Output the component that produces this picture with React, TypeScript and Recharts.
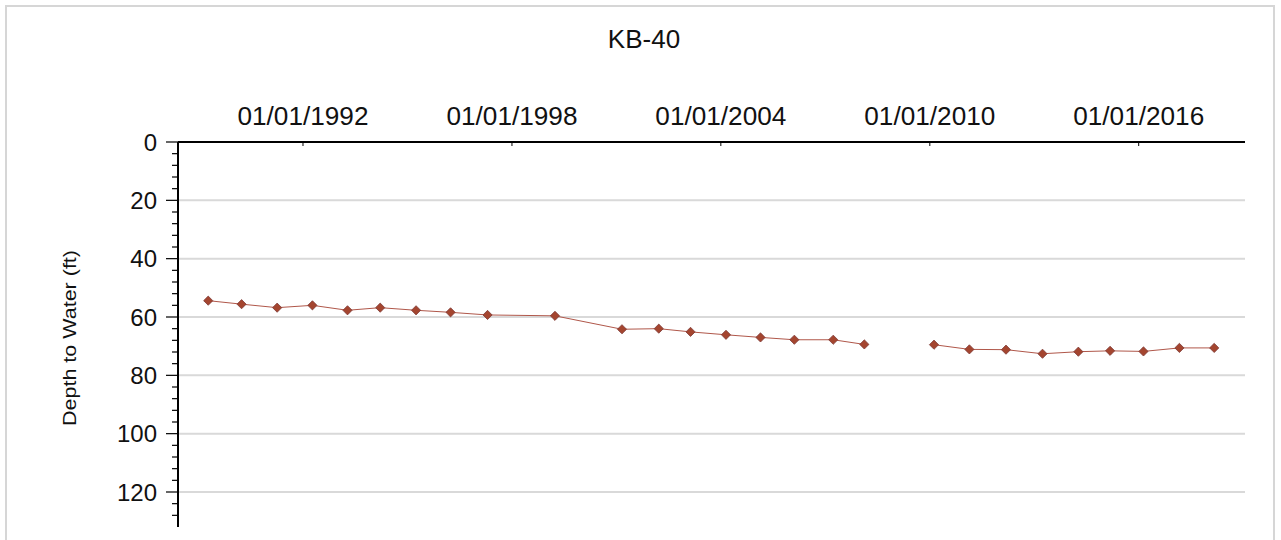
import React from 'react';
import { LineChart, Line, XAxis, YAxis, CartesianGrid } from 'recharts';

// ---- data ----
const sampleDates: string[] = [
  '1989-04-12', '1990-03-28', '1991-04-05', '1992-04-09', '1993-04-12',
  '1994-03-21', '1995-04-01', '1996-03-28', '1997-04-20', '1999-03-28',
  '2001-02-28', '2002-03-21', '2003-02-17', '2004-02-24', '2005-02-20',
  '2006-02-10', '2007-03-25', '2008-02-14', '2009-03-01', '2010-02-14',
  '2011-02-20', '2012-03-10', '2013-03-28', '2014-04-08', '2015-03-07',
  '2016-02-20', '2017-03-03', '2018-03-03',
];
const depthFt: (number | null)[] = [
  54.4, 55.6, 56.8, 56.0, 57.7,
  56.8, 57.7, 58.4, 59.3, 59.6,
  64.2, 64.0, 65.1, 66.1, 67.0,
  67.8, 67.8, 69.4, null, 69.5,
  71.1, 71.2, 72.6, 71.9, 71.6,
  71.8, 70.6, 70.6,
];
const dateTickValues: string[] = ['1992-01-01', '1998-01-01', '2004-01-01', '2010-01-01', '2016-01-01'];
const dateTickLabels: string[] = ['01/01/1992', '01/01/1998', '01/01/2004', '01/01/2010', '01/01/2016'];
const xDomainDates: string[] = ['1988-05-30', '2019-01-20'];
const depthTicks: number[] = [0, 4, 8, 12, 16, 20, 24, 28, 32, 36, 40, 44, 48, 52, 56, 60, 64, 68, 72, 76, 80, 84, 88, 92, 96, 100, 104, 108, 112, 116, 120, 124, 128];
const depthMajorStep = 20;
const gridDepths: number[] = [20, 40, 60, 80, 100, 120];
const depthDomain: number[] = [0, 132];
const chartTitle = 'KB-40';
const yAxisTitle = 'Depth to Water (ft)';

const toTime = (s: string) => Date.parse(s + 'T00:00:00Z');
const dateTickTimes = dateTickValues.map(toTime);
const data = sampleDates.map((d, i) => ({ t: toTime(d), depth: depthFt[i] }));

const FONT = '"Liberation Sans", Arial, sans-serif';

const DateTick = (props: any) => {
  const { x, y, payload } = props;
  const idx = dateTickTimes.indexOf(payload.value);
  const label = idx >= 0 ? dateTickLabels[idx] : '';
  return (
    <g>
      <line x1={x} x2={x} y1={y} y2={y + 4} stroke="#000" strokeWidth={1} />
      <text x={x} y={y - 17} textAnchor="middle" fontFamily={FONT} fontSize={25} fill="#111"
        textLength={131} lengthAdjust="spacingAndGlyphs">{label}</text>
    </g>
  );
};

const DepthTick = (props: any) => {
  const { x, y, payload } = props;
  const major = payload.value % depthMajorStep === 0;
  return (
    <g>
      <line x1={x - (major ? 12 : 6)} x2={x} y1={y} y2={y} stroke="#000" strokeWidth={1.2} />
      {major && (
        <text x={x - 21} y={y} dy="0.36em" textAnchor="end" fontFamily={FONT} fontSize={24} fill="#111">
          {payload.value}
        </text>
      )}
    </g>
  );
};

const Diamond = (props: any) => {
  const { cx, cy, value } = props;
  if (value == null || cx == null || cy == null) return <g />;
  const r = 4.6;
  return (
    <polygon
      points={`${cx},${cy - r} ${cx + r},${cy} ${cx},${cy + r} ${cx - r},${cy}`}
      fill="#a4452f"
      stroke="#7e3a36"
      strokeWidth={0.8}
    />
  );
};

export default function App() {
  return (
    <div style={{ position: 'absolute', left: 0, top: 0, width: 1281, height: 540, background: '#fff', overflow: 'hidden' }}>
      <div style={{
        position: 'absolute', left: 5, top: 5, width: 1270, height: 535,
        borderTop: '2px solid #d6d6d6', borderLeft: '2px solid #d6d6d6', borderRight: '2px solid #d6d6d6',
        boxSizing: 'border-box',
      }} />
      <div style={{ position: 'absolute', left: 0, top: 0 }}>
        <LineChart width={1281} height={540} data={data} margin={{ top: 92, right: 36, bottom: 13, left: 98 }}>
          <CartesianGrid vertical={false} horizontalValues={gridDepths} stroke="#d9d9d9" strokeWidth={2} />
          <XAxis
            dataKey="t"
            type="number"
            orientation="top"
            domain={xDomainDates.map(toTime)}
            ticks={dateTickTimes}
            interval={0}
            height={50}
            tickSize={0}
            tickMargin={0}
            tickLine={false}
            axisLine={{ stroke: '#000', strokeWidth: 2 }}
            tick={<DateTick />}
            allowDataOverflow
          />
          <YAxis
            type="number"
            reversed
            domain={depthDomain}
            ticks={depthTicks}
            interval={0}
            width={80}
            tickSize={0}
            tickMargin={0}
            tickLine={false}
            axisLine={{ stroke: '#000', strokeWidth: 2 }}
            tick={<DepthTick />}
            allowDataOverflow
          />
          <Line
            dataKey="depth"
            stroke="#b0574a"
            strokeWidth={1}
            dot={<Diamond />}
            activeDot={false}
            connectNulls={false}
            isAnimationActive={false}
          />
        </LineChart>
      </div>
      <svg width={1281} height={540} style={{ position: 'absolute', left: 0, top: 0, pointerEvents: 'none' }}>
        <text x={644} y={48} textAnchor="middle" fontFamily={FONT} fontSize={26} fill="#111">{chartTitle}</text>
        <text x={76} y={338} textAnchor="middle" fontFamily={FONT} fontSize={18} fill="#111"
          transform="rotate(-90, 76, 338)" textLength={176} lengthAdjust="spacingAndGlyphs">{yAxisTitle}</text>
      </svg>
    </div>
  );
}
